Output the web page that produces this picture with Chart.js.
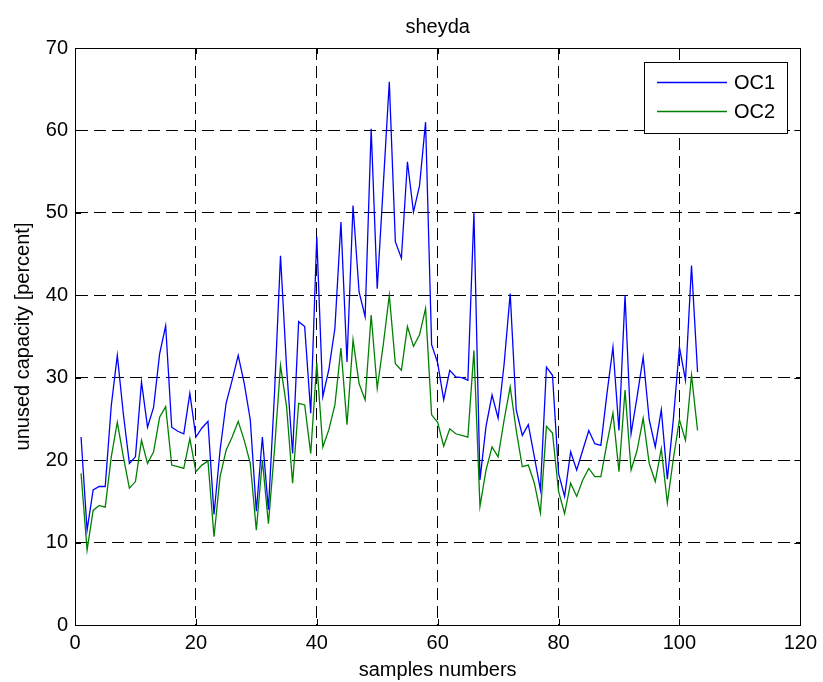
<!DOCTYPE html>
<html>
<head>
<meta charset="utf-8">
<title>sheyda</title>
<script src="https://cdn.jsdelivr.net/npm/chart.js@4/dist/chart.umd.min.js"></script>
<style>
  html, body { margin: 0; padding: 0; background: #fff; }
  #wrap { width: 823px; height: 682px; position: relative; }
</style>
</head>
<body>
<div id="wrap"><canvas id="chart" width="823" height="682"></canvas></div>
<script>
/* values */
const oc1 = [
  22.8, 11.5, 16.4, 16.8, 16.8, 26.6, 32.7, 25.6, 19.6, 20.4,
  29.5, 24.0, 26.4, 32.9, 36.3, 24.0, 23.5, 23.2, 28.1, 22.8,
  23.9, 24.7, 13.4, 21.2, 26.9, 29.7, 32.7, 29.3, 24.9, 13.8,
  22.8, 14.0, 28.0, 44.8, 31.3, 20.8, 36.8, 36.2, 25.7, 47.1,
  27.7, 31.0, 36.0, 48.9, 31.9, 50.9, 40.4, 37.4, 60.2, 40.8,
  53.3, 65.9, 46.5, 44.5, 56.2, 50.1, 53.3, 61.0, 34.0, 31.8,
  27.3, 30.9, 30.1, 30.0, 29.7, 50.0, 17.6, 24.1, 27.9, 25.1,
  31.7, 40.2, 26.1, 23.0, 24.3, 20.4, 16.4, 31.3, 30.3, 18.4,
  15.6, 21.0, 18.8, 21.2, 23.6, 22.0, 21.8, 28.0, 33.7, 23.6,
  40.0, 23.2, 27.7, 32.5, 24.9, 21.6, 26.1, 17.7, 25.0, 33.7,
  29.7, 43.6, 30.7
];
const oc2 = [
  18.4, 9.1, 13.9, 14.5, 14.3, 20.4, 24.6, 20.4, 16.6, 17.4,
  22.4, 19.6, 21.0, 25.2, 26.5, 19.4, 19.2, 19.0, 22.6, 18.6,
  19.4, 19.9, 10.7, 18.0, 21.2, 22.8, 24.7, 22.4, 19.6, 11.5,
  20.0, 12.3, 21.2, 31.5, 26.5, 17.2, 26.9, 26.7, 20.8, 31.8,
  21.6, 23.7, 26.7, 33.6, 24.3, 34.6, 29.3, 27.3, 37.6, 28.7,
  34.0, 40.0, 31.7, 30.9, 36.2, 33.8, 35.2, 38.4, 25.5, 24.6,
  21.7, 23.8, 23.2, 23.0, 22.8, 33.3, 14.4, 18.8, 21.6, 20.4,
  24.9, 28.9, 23.6, 19.2, 19.4, 17.2, 13.6, 24.1, 23.3, 16.2,
  13.5, 17.2, 15.6, 17.6, 19.0, 18.0, 18.0, 22.0, 25.7, 18.6,
  28.5, 18.8, 21.2, 25.1, 19.6, 17.4, 21.4, 14.8, 20.2, 24.9,
  22.4, 30.3, 23.6
];
// sample numbers 1..103
const samples = oc1.map((_, i) => i + 1);
const seriesNames = ["OC1", "OC2"];
const seriesColors = ["#0000ff", "#008000"];
const xTicks = [0, 20, 40, 60, 80, 100, 120];
const yTicks = [0, 10, 20, 30, 40, 50, 60, 70];

const FONT = "'Liberation Sans', Arial, Helvetica, sans-serif";

function toPoints(values) {
  return values.map((v, i) => ({ x: samples[i], y: v }));
}

/* box around the plot, small inside ticks, legend in the top-right corner */
const matlabFrame = {
  id: "matlabFrame",
  afterDraw(chart) {
    const { ctx, chartArea: a, scales } = chart;
    ctx.save();
    ctx.strokeStyle = "#000";
    ctx.lineWidth = 1;
    ctx.setLineDash([]);
    ctx.strokeRect(Math.round(a.left) + 0.5, Math.round(a.top) + 0.5,
      Math.round(a.right - a.left), Math.round(a.bottom - a.top));

    const tl = 6;
    ctx.beginPath();
    xTicks.forEach(t => {
      const x = Math.round(scales.x.getPixelForValue(t)) + 0.5;
      ctx.moveTo(x, a.bottom); ctx.lineTo(x, a.bottom - tl);
      ctx.moveTo(x, a.top); ctx.lineTo(x, a.top + tl);
    });
    yTicks.forEach(t => {
      const y = Math.round(scales.y.getPixelForValue(t)) + 0.5;
      ctx.moveTo(a.left, y); ctx.lineTo(a.left + tl, y);
      ctx.moveTo(a.right, y); ctx.lineTo(a.right - tl, y);
    });
    ctx.stroke();

    // legend
    const bx = 644.5, by = 62.5, bw = 143, bh = 71;
    ctx.fillStyle = "#fff";
    ctx.fillRect(bx, by, bw, bh);
    ctx.strokeRect(bx, by, bw, bh);
    ctx.font = "20px " + FONT;
    ctx.textBaseline = "middle";
    ctx.textAlign = "left";
    chart.data.datasets.forEach((ds, i) => {
      const y = 82 + i * 29;
      ctx.strokeStyle = ds.borderColor;
      ctx.lineWidth = 1.3;
      ctx.beginPath();
      ctx.moveTo(657, y + 0.5); ctx.lineTo(727, y + 0.5);
      ctx.stroke();
      ctx.fillStyle = "#000";
      ctx.fillText(ds.label, 734, y + 1);
    });
    ctx.restore();
  }
};

new Chart(document.getElementById("chart"), {
  type: "line",
  data: {
    datasets: [0, 1].map(i => ({
      label: seriesNames[i],
      data: toPoints(i === 0 ? oc1 : oc2),
      borderColor: seriesColors[i],
      backgroundColor: seriesColors[i],
      borderWidth: 1.3,
      pointRadius: 0,
      tension: 0,
      fill: false
    }))
  },
  options: {
    responsive: false,
    animation: false,
    events: [],
    layout: { padding: { left: 0, right: 21, top: 0, bottom: 0 } },
    plugins: {
      legend: { display: false },
      tooltip: { enabled: false },
      title: { display: false }
    },
    scales: {
      // top axis only carries the chart title, centred over the plot box
      top: {
        type: "linear",
        position: "top",
        min: 0,
        max: 120,
        afterFit(scale) { scale.height = 48; },
        ticks: { display: false },
        grid: { display: false },
        border: { display: false },
        title: {
          display: true,
          text: "sheyda",
          color: "#000",
          font: { family: FONT, size: 20 },
          padding: { top: 15, bottom: 0 }
        }
      },
      x: {
        type: "linear",
        min: 0,
        max: 120,
        afterBuildTicks(scale) { scale.ticks = xTicks.map(v => ({ value: v })); },
        afterFit(scale) { scale.height = 57; },
        ticks: {
          color: "#000",
          padding: 6,
          maxRotation: 0,
          autoSkip: false,
          font: { family: FONT, size: 20 }
        },
        grid: { color: "#000", lineWidth: 1, drawTicks: false },
        border: { display: true, color: "#000", width: 1, dash: [12, 6] },
        title: {
          display: true,
          text: "samples numbers",
          color: "#000",
          font: { family: FONT, size: 20 },
          padding: { top: 0, bottom: 0 }
        }
      },
      y: {
        type: "linear",
        min: 0,
        max: 70,
        afterBuildTicks(scale) { scale.ticks = yTicks.map(v => ({ value: v })); },
        afterFit(scale) { scale.width = 75; },
        ticks: {
          color: "#000",
          padding: 7,
          autoSkip: false,
          font: { family: FONT, size: 20 }
        },
        grid: { color: "#000", lineWidth: 1, drawTicks: false },
        border: { display: true, color: "#000", width: 1, dash: [12, 6] },
        title: {
          display: true,
          text: "unused capacity [percent]",
          color: "#000",
          font: { family: FONT, size: 20 },
          padding: { top: 11, bottom: 0 }
        }
      }
    }
  },
  plugins: [matlabFrame]
});
</script>
</body>
</html>
